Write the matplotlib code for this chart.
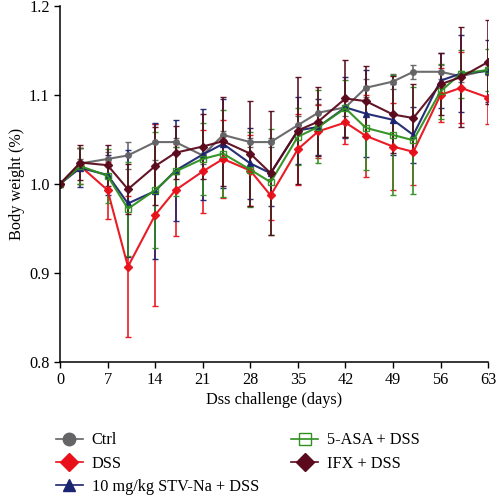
import numpy as np
import matplotlib.pyplot as plt

plt.rcParams["font.family"] = ["Liberation Serif", "DejaVu Serif"]

days = [0, 3, 7, 10, 14, 17, 21, 24, 28, 31, 35, 38, 42, 45, 49, 52, 56, 59, 63]

ctrl = [1.0, 1.023, 1.028, 1.032, 1.047, 1.047, 1.032, 1.055, 1.047, 1.047,
        1.066, 1.080, 1.086, 1.108, 1.115, 1.126, 1.126, 1.121, 1.128]
ctrl_err = [0, 0.005, 0.008, 0.015, 0.02, 0.005, 0.01, 0.005, 0.005, 0.005,
            0.01, 0.01, 0.01, 0.01, 0.008, 0.008, 0.008, 0.006, 0.006]

dss = [1.0, 1.020, 0.993, 0.907, 0.965, 0.993, 1.014, 1.028, 1.015, 0.987,
       1.039, 1.059, 1.069, 1.054, 1.042, 1.036, 1.100, 1.108, 1.097]
dss_err = [0, 0.02, 0.032, 0.079, 0.102, 0.052, 0.047, 0.044, 0.04, 0.028,
           0.04, 0.03, 0.024, 0.046, 0.049, 0.037, 0.03, 0.04, 0.03]

stv = [1.0, 1.018, 1.010, 0.978, 0.992, 1.015, 1.033, 1.045, 1.023, 1.012,
       1.060, 1.064, 1.086, 1.079, 1.072, 1.055, 1.116, 1.124, 1.127]
stv_err = [0, 0.022, 0.023, 0.06, 0.076, 0.057, 0.051, 0.05, 0.04, 0.037,
           0.038, 0.031, 0.034, 0.049, 0.04, 0.031, 0.031, 0.043, 0.035]

asa = [1.0, 1.020, 1.009, 0.972, 0.993, 1.014, 1.028, 1.034, 1.016, 1.002,
       1.053, 1.064, 1.085, 1.063, 1.055, 1.049, 1.104, 1.124, 1.128]
asa_err = [0, 0.02, 0.03, 0.053, 0.065, 0.028, 0.04, 0.049, 0.042, 0.06,
           0.032, 0.041, 0.032, 0.047, 0.067, 0.06, 0.031, 0.027, 0.024]

ifx = [1.0, 1.024, 1.021, 0.994, 1.020, 1.035, 1.042, 1.048, 1.034, 1.012,
       1.060, 1.070, 1.096, 1.093, 1.078, 1.074, 1.112, 1.120, 1.137]
ifx_err = [0, 0.02, 0.023, 0.028, 0.044, 0.030, 0.037, 0.05, 0.059, 0.07,
           0.06, 0.039, 0.043, 0.039, 0.043, 0.038, 0.035, 0.056, 0.047]

series = [
    ("Ctrl", ctrl, ctrl_err, "#646466", "o", "#646466"),
    ("DSS", dss, dss_err, "#e8101a", "D", "#e8101a"),
    ("10 mg/kg STV-Na + DSS", stv, stv_err, "#1b2470", "^", "#1b2470"),
    ("5-ASA + DSS", asa, asa_err, "#2f8f1f", "s", "none"),
    ("IFX + DSS", ifx, ifx_err, "#5a0a1c", "D", "#5a0a1c"),
]

fs = 11.7

fig = plt.figure(figsize=(4.96, 4.95), dpi=100)
ax = fig.add_axes([0.121, 0.269, 0.863, 0.719])

handles = []
for name, vals, err, col, mk, face in series:
    ax.errorbar(days, vals, yerr=err, color=col, ecolor=col, elinewidth=1.2,
                capsize=2, capthick=1, lw=1.5, marker=mk, ms=4,
                markerfacecolor=face, markeredgecolor=col, alpha=0.95)
    h, = ax.plot([], [], color=col, lw=1.2, marker=mk, ms=9,
                 markerfacecolor=face, markeredgecolor=col)
    handles.append(h)

ax.set_xlim(0, 63)
ax.set_ylim(0.8, 1.2)
ax.set_xticks(range(0, 64, 7))
ax.set_yticks([0.8, 0.9, 1.0, 1.1, 1.2])
ax.set_yticklabels(["0.8", "0.9", "1.0", "1.1", "1.2"])
ax.tick_params(direction="out", length=4, width=1, labelsize=fs, colors="black")
for s in ["top", "right"]:
    ax.spines[s].set_visible(False)
for s in ["left", "bottom"]:
    ax.spines[s].set_linewidth(1.1)
ax.set_xlabel("Dss challenge (days)", fontsize=fs, labelpad=3)
ax.set_ylabel("Body weight (%)", fontsize=fs, labelpad=3)

fig.legend(handles, [s[0] for s in series], ncol=2, loc="upper left",
           bbox_to_anchor=(0.083, 0.156), frameon=False, fontsize=fs,
           handlelength=1.65, columnspacing=2.0, labelspacing=0.45,
           handletextpad=0.55)

fig.savefig("out.png", dpi=100)
